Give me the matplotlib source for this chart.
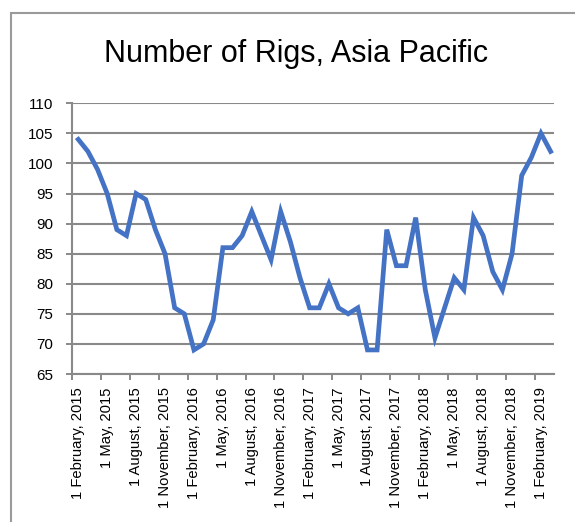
import matplotlib
matplotlib.use("Agg")
import matplotlib.pyplot as plt
from matplotlib.patches import Rectangle

plt.rcParams['font.family'] = ['Liberation Sans', 'DejaVu Sans']

title = "Number of Rigs, Asia Pacific"
tick_labels = ["1 February, 2015", "1 May, 2015", "1 August, 2015", "1 November, 2015",
               "1 February, 2016", "1 May, 2016", "1 August, 2016", "1 November, 2016",
               "1 February, 2017", "1 May, 2017", "1 August, 2017", "1 November, 2017",
               "1 February, 2018", "1 May, 2018", "1 August, 2018", "1 November, 2018",
               "1 February, 2019"]
rigs = [104, 102, 99, 95, 89, 88, 95, 94, 89, 85, 76, 75, 69, 70, 74, 86, 86, 88, 92, 88,
        84, 92, 87, 81, 76, 76, 80, 76, 75, 76, 69, 69, 89, 83, 83, 91, 79, 71, 76, 81,
        79, 91, 88, 82, 79, 85, 98, 101, 105, 102]
yticks = [65, 70, 75, 80, 85, 90, 95, 100, 105, 110]

fig = plt.figure(figsize=(5.75, 5.22), dpi=100)
ax = fig.add_axes([72/575, 1-374/522, (554-72)/575, (374-103.3)/522])

months = list(range(len(rigs)))
gray = '#898989'
ax.plot(months, rigs, color='#4472C4', lw=3.4, solid_joinstyle='miter', zorder=3)

ax.set_ylim(65, 110)
ax.set_yticks(yticks)
ax.set_xlim(-0.65, 49.35)
label_pos = [3*k for k in range(len(tick_labels))]
ax.set_xticks(label_pos)
ax.set_xticklabels(tick_labels, rotation=90, fontsize=10.6)
ax.tick_params(axis='x', length=0, pad=9.5)
ax.set_xticks([3*k - 0.65 for k in range(len(tick_labels))], minor=True)
ax.tick_params(axis='x', which='minor', length=4.5, width=1.4, color=gray)
ax.tick_params(axis='y', length=4.5, width=1.4, color=gray, pad=9, labelsize=11)
ax.grid(axis='y', color=gray, lw=1.5)
ax.set_axisbelow(True)
for s in ['top', 'right']:
    ax.spines[s].set_visible(False)
for s in ['left', 'bottom']:
    ax.spines[s].set_color(gray)
    ax.spines[s].set_linewidth(1.5)

fig.text(296.5/575, 1-54/522, title, ha='center', va='center', fontsize=22)
fig.patches.append(Rectangle((10.5/575, -0.1), 1.2, 1-13/522+0.1, transform=fig.transFigure,
                             fill=False, edgecolor='#9a9a9a', lw=1.5))

fig.savefig("out.png", dpi=100)
